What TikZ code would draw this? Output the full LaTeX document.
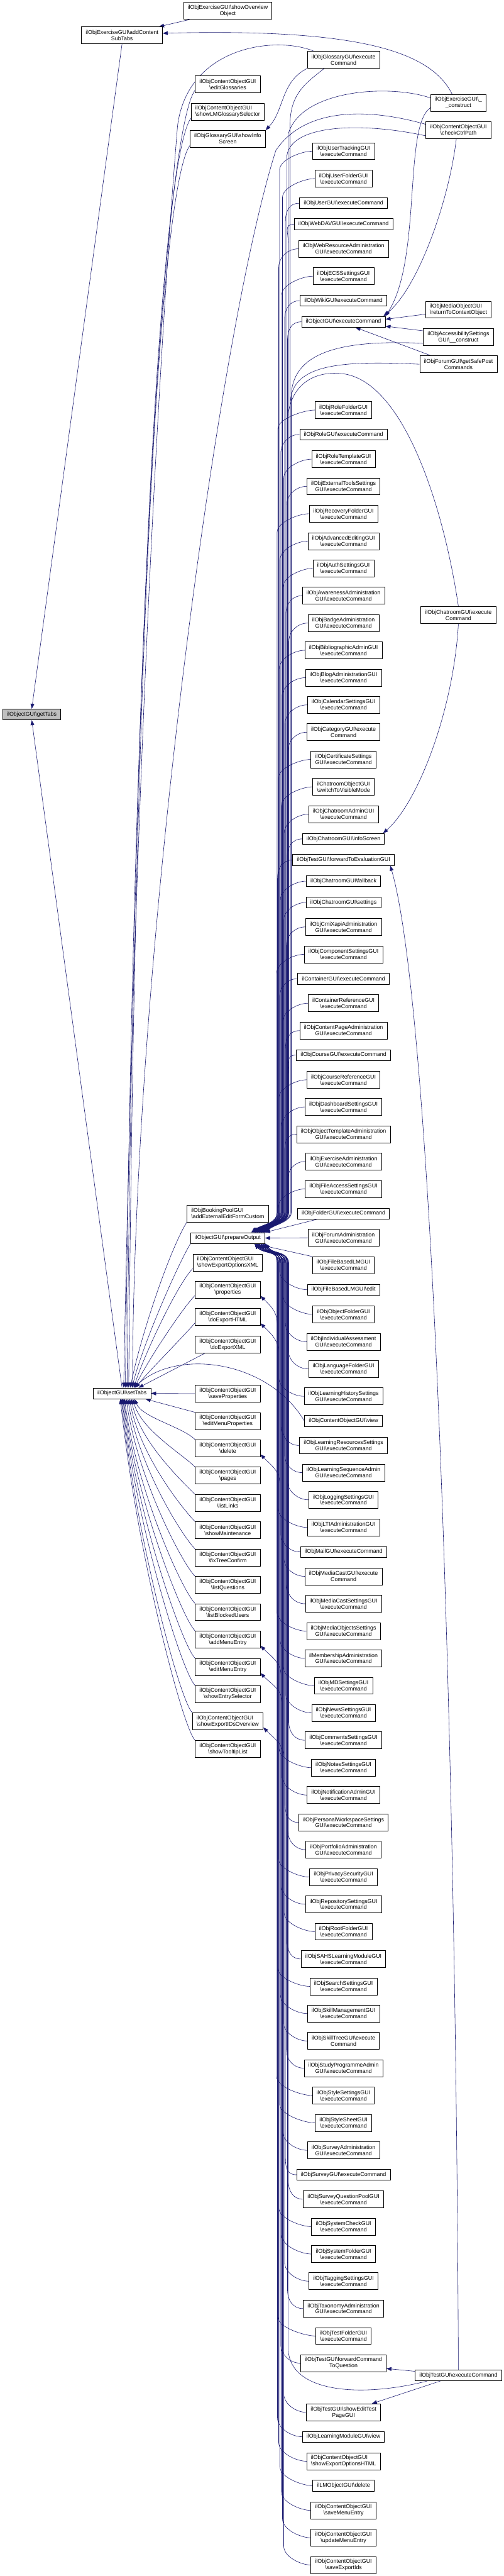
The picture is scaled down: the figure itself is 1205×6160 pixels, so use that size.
\documentclass[tikz,border=0pt]{standalone}
\usepackage{fontspec}
\setmainfont{Liberation Sans}
\usetikzlibrary{arrows.meta,calc}
\definecolor{edgeblue}{HTML}{191970}
\definecolor{getgray}{HTML}{BFBFBF}
\newcommand{\BSL}{\textbackslash}
\newcommand{\nodefont}{\fontsize{13.33pt}{15pt}\selectfont}
\pgfdeclarelayer{bg}
\pgfsetlayers{bg,main}
\tikzset{
  box/.style={draw=black, line width=1.1pt, fill=white, font=\nodefont, align=center, inner xsep=10pt, inner ysep=0pt, minimum height=26pt},
  tall/.style={minimum height=40.5pt},
  edge/.style={draw=edgeblue, line width=0.9pt, -{Triangle[length=12pt,width=9pt]}}
}
\begin{document}
\begin{tikzpicture}[x=1pt,y=-1pt]
\begin{pgfonlayer}{bg}
\fill[white] (0,0) rectangle (1205,6160);
\end{pgfonlayer}
\useasboundingbox (0,0) rectangle (1205,6160);

% column 1 and 2
\node[box,fill=getgray] (G) at (76,1708.5) {ilObjectGUI\BSL getTabs};
\node[box,tall] (ACS) at (292,84.5) {ilObjExerciseGUI\BSL addContent\\SubTabs};
\node[box] (ST) at (292,3332) {ilObjectGUI\BSL setTabs};

% column 3
\node[box,tall] (sOO) at (545,26) {ilObjExerciseGUI\BSL showOverview\\Object};
\node[box,tall] (eG) at (545,202) {ilObjContentObjectGUI\\\BSL editGlossaries};
\node[box,tall,align=left] (sLM) at (545,267) {ilObjContentObjectGUI\\\BSL showLMGlossarySelector};
\node[box,tall] (sIS) at (545,332) {ilObjGlossaryGUI\BSL showInfo\\Screen};
\node[box,tall,align=left] (bP) at (545,2902) {ilObjBookingPoolGUI\\\BSL addExternalEditFormCustom};
\node[box] (pO) at (545,2960.5) {ilObjectGUI\BSL prepareOutput};
\node[box,tall,align=left] (sEX) at (545,3019) {ilObjContentObjectGUI\\\BSL showExportOptionsXML};
\node[box,tall] (pr) at (545,3084) {ilObjContentObjectGUI\\\BSL properties};
\node[box,tall] (dEH) at (545,3149.5) {ilObjContentObjectGUI\\\BSL doExportHTML};
\node[box,tall] (dEX) at (545,3215) {ilObjContentObjectGUI\\\BSL doExportXML};
\node[box,tall] (sP) at (545,3332.5) {ilObjContentObjectGUI\\\BSL saveProperties};
\node[box,tall] (eMP) at (545,3398) {ilObjContentObjectGUI\\\BSL editMenuProperties};
\node[box,tall] (del) at (545,3463) {ilObjContentObjectGUI\\\BSL delete};
\node[box,tall] (pg) at (545,3528.5) {ilObjContentObjectGUI\\\BSL pages};
\node[box,tall] (lL) at (545,3594) {ilObjContentObjectGUI\\\BSL listLinks};
\node[box,tall] (sM) at (545,3659) {ilObjContentObjectGUI\\\BSL showMaintenance};
\node[box,tall] (fT) at (545,3724.5) {ilObjContentObjectGUI\\\BSL fixTreeConfirm};
\node[box,tall] (lQ) at (545,3790) {ilObjContentObjectGUI\\\BSL listQuestions};
\node[box,tall] (lB) at (545,3855) {ilObjContentObjectGUI\\\BSL listBlockedUsers};
\node[box,tall] (aME) at (545,3920.5) {ilObjContentObjectGUI\\\BSL addMenuEntry};
\node[box,tall] (eME) at (545,3986) {ilObjContentObjectGUI\\\BSL editMenuEntry};
\node[box,tall] (sES) at (545,4051) {ilObjContentObjectGUI\\\BSL showEntrySelector};
\node[box,tall,align=left] (sEI) at (545,4116) {ilObjContentObjectGUI\\\BSL showExportIDsOverview};
\node[box,tall] (sTL) at (545,4182) {ilObjContentObjectGUI\\\BSL showTooltipList};

% column 5
\node[box,tall] (exc) at (1097,246) {ilObjExerciseGUI\BSL\_\\\_construct};
\node[box,tall] (cc) at (1097,311) {ilObjContentObjectGUI\\\BSL checkCtrlPath};
\node[box,tall,align=left] (rtc) at (1097,740.5) {ilObjMediaObjectGUI\\\BSL returnToContextObject};
\node[box,tall] (acc) at (1097,806) {ilObjAccessibilitySettings\\GUI\BSL\_\_construct};
\node[box,tall] (fgs) at (1097,871) {ilObjForumGUI\BSL getSafePost\\Commands};
\node[box,tall] (chx) at (1097,1471) {ilObjChatroomGUI\BSL execute\\Command};
\node[box] (tx) at (1097,5680) {ilObjTestGUI\BSL executeCommand};

% column 4
\node[box,tall] (n1) at (822,143) {ilObjGlossaryGUI\BSL execute\\Command};
\node[box,tall] (n2) at (822,361.5) {ilObjUserTrackingGUI\\\BSL executeCommand};
\node[box,tall] (n3) at (822,427) {ilObjUserFolderGUI\\\BSL executeCommand};
\node[box] (n4) at (822,486) {ilObjUserGUI\BSL executeCommand};
\node[box] (n5) at (822,536) {ilObjWebDAVGUI\BSL executeCommand};
\node[box,tall] (n6) at (822,595) {ilObjWebResourceAdministration\\GUI\BSL executeCommand};
\node[box,tall] (n7) at (822,660.5) {ilObjECSSettingsGUI\\\BSL executeCommand};
\node[box] (n8) at (822,719) {ilObjWikiGUI\BSL executeCommand};
\node[box] (n9) at (822,769.5) {ilObjectGUI\BSL executeCommand};
\node[box,tall] (n10) at (822,980.5) {ilObjRoleFolderGUI\\\BSL executeCommand};
\node[box] (n11) at (822,1039) {ilObjRoleGUI\BSL executeCommand};
\node[box,tall] (n12) at (822,1098) {ilObjRoleTemplateGUI\\\BSL executeCommand};
\node[box,tall] (n13) at (822,1163) {ilObjExternalToolsSettings\\GUI\BSL executeCommand};
\node[box,tall] (n14) at (822,1228.5) {ilObjRecoveryFolderGUI\\\BSL executeCommand};
\node[box,tall] (n15) at (822,1294) {ilObjAdvancedEditingGUI\\\BSL executeCommand};
\node[box,tall] (n16) at (822,1359) {ilObjAuthSettingsGUI\\\BSL executeCommand};
\node[box,tall] (n17) at (822,1424.5) {ilObjAwarenessAdministration\\GUI\BSL executeCommand};
\node[box,tall] (n18) at (822,1490) {ilObjBadgeAdministration\\GUI\BSL executeCommand};
\node[box,tall] (n19) at (822,1555) {ilObjBibliographicAdminGUI\\\BSL executeCommand};
\node[box,tall] (n20) at (822,1620.5) {ilObjBlogAdministrationGUI\\\BSL executeCommand};
\node[box,tall] (n21) at (822,1685.5) {ilObjCalendarSettingsGUI\\\BSL executeCommand};
\node[box,tall] (n22) at (822,1751) {ilObjCategoryGUI\BSL execute\\Command};
\node[box,tall] (n23) at (822,1816) {ilObjCertificateSettings\\GUI\BSL executeCommand};
\node[box,tall,align=left] (n24) at (822,1881.5) {ilChatroomObjectGUI\\\BSL switchToVisibleMode};
\node[box,tall] (n25) at (822,1947) {ilObjChatroomAdminGUI\\\BSL executeCommand};
\node[box] (n26) at (822,2006) {ilObjChatroomGUI\BSL infoScreen};
\node[box] (n27) at (822,2056.5) {ilObjTestGUI\BSL forwardToEvaluationGUI};
\node[box] (n28) at (822,2107) {ilObjChatroomGUI\BSL fallback};
\node[box] (n29) at (822,2158) {ilObjChatroomGUI\BSL settings};
\node[box,tall] (n30) at (822,2216.5) {ilObjCmiXapiAdministration\\GUI\BSL executeCommand};
\node[box,tall] (n31) at (822,2282) {ilObjComponentSettingsGUI\\\BSL executeCommand};
\node[box] (n32) at (822,2340.5) {ilContainerGUI\BSL executeCommand};
\node[box,tall] (n33) at (822,2399) {ilContainerReferenceGUI\\\BSL executeCommand};
\node[box,tall] (n34) at (822,2464.5) {ilObjContentPageAdministration\\GUI\BSL executeCommand};
\node[box] (n35) at (822,2523) {ilObjCourseGUI\BSL executeCommand};
\node[box,tall] (n36) at (822,2582) {ilObjCourseReferenceGUI\\\BSL executeCommand};
\node[box,tall] (n37) at (822,2647) {ilObjDashboardSettingsGUI\\\BSL executeCommand};
\node[box,tall] (n38) at (822,2712.5) {ilObjObjectTemplateAdministration\\GUI\BSL executeCommand};
\node[box,tall] (n39) at (822,2777.5) {ilObjExerciseAdministration\\GUI\BSL executeCommand};
\node[box,tall] (n40) at (822,2843) {ilObjFileAccessSettingsGUI\\\BSL executeCommand};
\node[box] (n41) at (822,2902) {ilObjFolderGUI\BSL executeCommand};
\node[box,tall] (n42) at (822,2960) {ilObjForumAdministration\\GUI\BSL executeCommand};
\node[box,tall] (n43) at (822,3025.5) {ilObjFileBasedLMGUI\\\BSL executeCommand};
\node[box] (n44) at (822,3084) {ilObjFileBasedLMGUI\BSL edit};
\node[box,tall] (n45) at (822,3143) {ilObjObjectFolderGUI\\\BSL executeCommand};
\node[box,tall] (n46) at (822,3208.5) {ilObjIndividualAssessment\\GUI\BSL executeCommand};
\node[box,tall] (n47) at (822,3273.5) {ilObjLanguageFolderGUI\\\BSL executeCommand};
\node[box,tall] (n48) at (822,3339) {ilObjLearningHistorySettings\\GUI\BSL executeCommand};
\node[box] (n49) at (822,3398) {ilObjContentObjectGUI\BSL view};
\node[box,tall] (n50) at (822,3456.5) {ilObjLearningResourcesSettings\\GUI\BSL executeCommand};
\node[box,tall] (n51) at (822,3521.5) {ilObjLearningSequenceAdmin\\GUI\BSL executeCommand};
\node[box,tall] (n52) at (822,3586.5) {ilObjLoggingSettingsGUI\\\BSL executeCommand};
\node[box,tall] (n53) at (822,3652.5) {ilObjLTIAdministrationGUI\\\BSL executeCommand};
\node[box] (n54) at (822,3711) {ilObjMailGUI\BSL executeCommand};
\node[box,tall] (n55) at (822,3769.5) {ilObjMediaCastGUI\BSL execute\\Command};
\node[box,tall] (n56) at (822,3835) {ilObjMediaCastSettingsGUI\\\BSL executeCommand};
\node[box,tall] (n57) at (822,3900.5) {ilObjMediaObjectsSettings\\GUI\BSL executeCommand};
\node[box,tall] (n58) at (822,3965.5) {ilMembershipAdministration\\GUI\BSL executeCommand};
\node[box,tall] (n59) at (822,4031) {ilObjMDSettingsGUI\\\BSL executeCommand};
\node[box,tall] (n60) at (822,4096) {ilObjNewsSettingsGUI\\\BSL executeCommand};
\node[box,tall] (n61) at (822,4161.5) {ilObjCommentsSettingsGUI\\\BSL executeCommand};
\node[box,tall] (n62) at (822,4227) {ilObjNotesSettingsGUI\\\BSL executeCommand};
\node[box,tall] (n63) at (822,4292.5) {ilObjNotificationAdminGUI\\\BSL executeCommand};
\node[box,tall] (n64) at (822,4358) {ilObjPersonalWorkspaceSettings\\GUI\BSL executeCommand};
\node[box,tall] (n65) at (822,4423) {ilObjPortfolioAdministration\\GUI\BSL executeCommand};
\node[box,tall] (n66) at (822,4488.5) {ilObjPrivacySecurityGUI\\\BSL executeCommand};
\node[box,tall] (n67) at (822,4553.5) {ilObjRepositorySettingsGUI\\\BSL executeCommand};
\node[box,tall] (n68) at (822,4619) {ilObjRootFolderGUI\\\BSL executeCommand};
\node[box,tall] (n69) at (822,4684.5) {ilObjSAHSLearningModuleGUI\\\BSL executeCommand};
\node[box,tall] (n70) at (822,4750) {ilObjSearchSettingsGUI\\\BSL executeCommand};
\node[box,tall] (n71) at (822,4815) {ilObjSkillManagementGUI\\\BSL executeCommand};
\node[box,tall] (n72) at (822,4880.5) {ilObjSkillTreeGUI\BSL execute\\Command};
\node[box,tall] (n73) at (822,4945.5) {ilObjStudyProgrammeAdmin\\GUI\BSL executeCommand};
\node[box,tall] (n74) at (822,5011) {ilObjStyleSettingsGUI\\\BSL executeCommand};
\node[box,tall] (n75) at (822,5076.5) {ilObjStyleSheetGUI\\\BSL executeCommand};
\node[box,tall] (n76) at (822,5142) {ilObjSurveyAdministration\\GUI\BSL executeCommand};
\node[box] (n77) at (822,5200.5) {ilObjSurveyGUI\BSL executeCommand};
\node[box,tall] (n78) at (822,5259) {ilObjSurveyQuestionPoolGUI\\\BSL executeCommand};
\node[box,tall] (n79) at (822,5324.5) {ilObjSystemCheckGUI\\\BSL executeCommand};
\node[box,tall] (n80) at (822,5390) {ilObjSystemFolderGUI\\\BSL executeCommand};
\node[box,tall] (n81) at (822,5455) {ilObjTaggingSettingsGUI\\\BSL executeCommand};
\node[box,tall] (n82) at (822,5520.5) {ilObjTaxonomyAdministration\\GUI\BSL executeCommand};
\node[box,tall] (n83) at (822,5586) {ilObjTestFolderGUI\\\BSL executeCommand};
\node[box,tall] (n84) at (822,5651) {ilObjTestGUI\BSL forwardCommand\\ToQuestion};
\node[box,tall] (n85) at (822,5768.5) {ilObjTestGUI\BSL showEditTest\\PageGUI};
\node[box] (n86) at (822,5827) {ilObjLearningModuleGUI\BSL view};
\node[box,tall,align=left] (n87) at (822,5885.5) {ilObjContentObjectGUI\\\BSL showExportOptionsHTML};
\node[box] (n88) at (822,5944) {ilLMObjectGUI\BSL delete};
\node[box,tall] (n89) at (822,6003) {ilObjContentObjectGUI\\\BSL saveMenuEntry};
\node[box,tall] (n90) at (822,6068.5) {ilObjContentObjectGUI\\\BSL updateMenuEntry};
\node[box,tall] (n91) at (822,6133.5) {ilObjContentObjectGUI\\\BSL saveExportIds};

\begin{pgfonlayer}{bg}
% top part
\draw[edge] ($(sOO.south west)+(15,0)$) -- ($(ACS.north east)+(-9,0)$);
\draw[edge] ($(exc.north)+(-15,0)$) .. controls (1030,120) and (850,68) .. ($(ACS.east)+(0,-5)$);
\draw[edge] (ACS.south) -- (G.north);
\draw[edge] (ST.north) -- (G.south);

% glossary executeCommand
\draw[edge] ($(n1.north west)+(16,0)$) .. controls (660,85) and (450,110) .. (425,300) .. controls (410,480) and (330,1500) .. ($(ST.north)+(4,0)$);
\draw[edge] (n1.south west) .. controls (672,195) and (680,265) .. (sIS.north east);
\draw[edge] ($(n1.south west)+(41,0)$) .. controls (730,200) and (694,225) .. (694,300) -- (694,2900) .. controls +(0,25) and +(25,-20) .. ($(pO.north east)+(-2,0)$);

% upper column 3 to setTabs
\draw[edge] (eG.190) .. controls +(-60,80) and (325,1200) .. ($(ST.north)+(8,0)$);
\draw[edge] (sLM.190) .. controls +(-60,80) and (325,1250) .. ($(ST.north)+(12,0)$);
\draw[edge] (sIS.190) .. controls +(-60,80) and (325,1300) .. ($(ST.north)+(16,0)$);

% column 5 upper
\draw[edge] (exc.190) .. controls (965,300) and (1010,620) .. (n9.north east);
\draw[edge] ($(cc.south)+(-5,0)$) .. controls (1075,480) and (1000,690) .. ($(n9.north east)+(-5,0)$);
\draw[edge] (exc.170) .. controls (930,200) and (720,215) .. (690,320) -- (690,2900) .. controls +(0,25) and +(25,-20) .. ($(pO.north east)+(-6,0)$);
\draw[edge] (cc.170) .. controls (850,250) and (720,270) .. (660,360) .. controls (520,800) and (320,2300) .. ($(ST.north)+(25,0)$);
\draw[edge] (cc.190) .. controls (870,292) and (686,295) .. (686,380) -- (686,2900) .. controls +(0,25) and +(25,-20) .. ($(pO.north east)+(-10,0)$);
\draw[edge] ($(rtc.south west)+(0,-10)$) -- ($(n9.east)+(0,-6)$);
\draw[edge] (acc.170) -- ($(n9.south east)+(0,-3)$);
\draw[edge] ($(fgs.north west)+(27,0)$) -- ($(n9.south east)+(-72,0)$);
\draw[edge] (acc.190) .. controls (820,812) and (697,840) .. (697,950) -- (697,2900) .. controls +(0,25) and +(25,-20) .. ($(pO.north east)+(-14,0)$);
\draw[edge] (fgs.west) .. controls (820,862) and (700,870) .. (695,960) -- (695,2900) .. controls +(0,25) and +(25,-20) .. ($(pO.north east)+(-20,0)$);
\draw[edge] (chx.north) .. controls (1060,1200) and (960,900) .. (812,893) .. controls (740,888) and (690,930) .. (688,1010) -- (688,2900) .. controls +(0,25) and +(25,-20) .. ($(pO.north east)+(-24,0)$);
\draw[edge] (chx.south) .. controls (1085,1700) and (1000,1920) .. ($(n26.north east)+(-4,0)$);

% test executeCommand
\draw[edge] (tx.north) .. controls (1090,4000) and (1030,2400) .. ($(n27.south east)+(-10,0)$);
\draw[edge] ($(tx.north west)+(0,4)$) -- ($(n84.south east)+(0,-8)$);
\draw[edge] ($(tx.south west)+(61,0)$) -- ($(n85.north east)+(-21,0)$);
\draw[edge] ($(tx.south west)+(30,0)$) .. controls (860,5735) and (695,5720) .. (690,5620) -- (690,3020) .. controls +(0,-30) and +(20,25) .. ($(pO.south east)+(-3,0)$);

% straight column 4 to prepareOutput
\draw[edge] ($(n41.south west)+(48,0)$) -- (pO.north east);
\draw[edge] (n42.west) -- (pO.east);
\draw[edge] (n43.north west) -- ($(pO.south east)+(-25,0)$);

% upper bundle
\foreach \n/\y [count=\i] in {n2/361.5, n3/427, n4/486, n5/536, n6/595, n7/660.5, n8/719, n9/769.5, n10/980.5, n11/1039, n12/1098, n13/1163, n14/1228.5, n15/1294, n16/1359, n17/1424.5, n18/1490, n19/1555, n20/1620.5, n21/1685.5, n22/1751, n23/1816, n24/1881.5, n25/1947, n26/2006, n27/2056.5, n28/2107, n29/2158, n30/2216.5, n31/2282, n32/2340.5, n33/2399, n34/2464.5, n35/2523, n36/2582, n37/2647, n38/2712.5, n39/2777.5, n40/2843}{
  \pgfmathsetmacro\bx{662+mod(\i*7,30)}
  \pgfmathsetmacro\k{mod(\i*5,34)}
  \draw[edge] (\n.west) .. controls +(-25,0) and +(0,-25) .. (\bx,{\y+45}) -- (\bx,2900) .. controls +(0,25) and +(25,-20) .. ($(pO.north east)+(-\k,0)$);
}

% lower bundle
\foreach \n/\y [count=\i] in {n44/3084, n45/3143, n46/3208.5, n47/3273.5, n48/3339, n50/3456.5, n51/3521.5, n52/3586.5, n53/3652.5, n54/3711, n55/3769.5, n56/3835, n57/3900.5, n58/3965.5, n59/4031, n60/4096, n61/4161.5, n62/4227, n63/4292.5, n64/4358, n65/4423, n66/4488.5, n67/4553.5, n68/4619, n69/4684.5, n70/4750, n71/4815, n72/4880.5, n73/4945.5, n74/5011, n75/5076.5, n76/5142, n77/5200.5, n78/5259, n79/5324.5, n80/5390, n81/5455, n82/5520.5, n83/5586, n84/5651, n85/5768.5}{
  \pgfmathsetmacro\bx{662+mod(\i*7,30)}
  \pgfmathsetmacro\k{mod(\i*5,30)}
  \draw[edge] (\n.west) .. controls +(-25,0) and +(0,25) .. (\bx,{\y-45}) -- (\bx,3020) .. controls +(0,-30) and +(20,25) .. ($(pO.south east)+(-\k,0)$);
}

% bottom column 4 to column 3
\foreach \n/\y/\t/\ty/\bx in {n86/5827/pr/3104/664, n87/5885.5/dEH/3170/667, n88/5944/del/3483/670, n89/6003/aME/3941/673, n90/6068.5/eME/4006/676, n91/6133.5/sEI/4136/679}{
  \draw[edge] (\n.west) .. controls +(-25,0) and +(0,25) .. (\bx,{\y-45}) -- (\bx,{\ty+70}) .. controls +(0,-35) and +(30,30) .. ($(\t.south east)+(0,-6)$);
}

% column 3 to setTabs (above)
\draw[edge] ($(bP.south west)+(1,-2)$) .. controls (405,2990) and (335,3200) .. ($(ST.north)+(20,0)$);
\draw[edge] (pO.south west) .. controls (420,3035) and (340,3220) .. ($(ST.north)+(24,0)$);
\draw[edge] (sEX.190) .. controls (425,3070) and (345,3240) .. ($(ST.north)+(28,0)$);
\draw[edge] (pr.190) .. controls (435,3130) and (350,3260) .. ($(ST.north)+(30,0)$);
\draw[edge] (dEH.190) .. controls (440,3195) and (355,3280) .. ($(ST.north)+(32,0)$);
\draw[edge] ($(dEX.south west)+(24,0)$) -- ($(ST.north east)+(-30,0)$);
\draw[edge] (n49.west) .. controls (640,3250) and (420,3225) .. ($(ST.north east)+(-40,0)$);

% column 3 to setTabs (below)
\draw[edge] (sP.west) -- (ST.east);
\draw[edge] (eMP.north west) -- ($(ST.south east)+(-13,0)$);
\foreach \n/\y/\k in {del/3443/30, pg/3508/26, lL/3574/22, sM/3639/18, fT/3704/14, lQ/3770/10, lB/3835/6, aME/3900/4, eME/3966/2, sES/4031/0, sEI/4096/-2, sTL/4162/-4}{
  \draw[edge] (\n.north west) .. controls +(-30,-30) and +({15+0.03*(\y-3345)},{0.45*(\y-3345)}) .. ($(ST.south)+(\k,0)$);
}
\end{pgfonlayer}
\end{tikzpicture}
\end{document}
